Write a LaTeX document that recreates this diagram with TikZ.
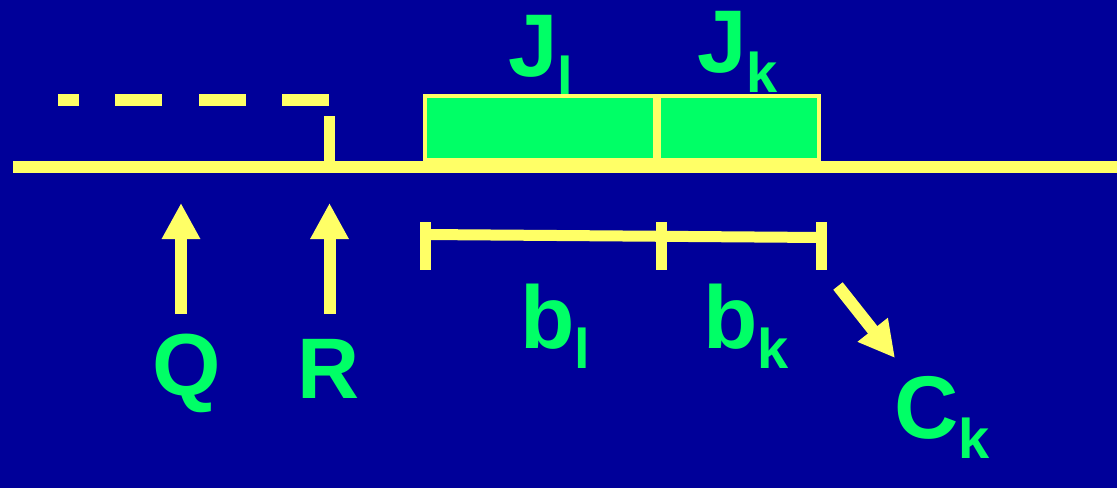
\documentclass[tikz,border=0pt]{standalone}
\usepackage{fontspec}
\setmainfont{Liberation Sans}
\usetikzlibrary{arrows.meta}
\definecolor{slidebg}{RGB}{0,0,153}
\definecolor{jobgreen}{RGB}{0,255,102}
\definecolor{hiyellow}{RGB}{255,255,102}
\newcommand{\subbed}[2]{\fontsize{89}{89}\selectfont #1\raisebox{-20pt}{\fontsize{56}{56}\selectfont #2}}
\tikzset{
  lbl/.style={anchor=base west,inner sep=0pt,text=jobgreen,font=\bfseries},
  bar/.style={draw=hiyellow,line width=12pt},
  job/.style={draw=hiyellow,fill=jobgreen,line width=4pt},
  up/.style={bar,-{Triangle[width=36pt,length=36pt]}},
}
\begin{document}
\begin{tikzpicture}[x=1pt,y=-1pt]
      \fill[slidebg] (0,0) rectangle (1117,488);
      \useasboundingbox (0,0) rectangle (1117,488);
      \node[lbl] (Jl) at (508,76) {\subbed{J}{l}};
      \node[lbl] (Jk) at (697,72) {\subbed{J}{k}};
      \node[lbl] (bl) at (520,348) {\subbed{b}{l}};
      \node[lbl] (bk) at (703,348) {\subbed{b}{k}};
      \node[lbl] (Ck) at (894,438) {\subbed{C}{k}};
      \node[lbl,font=\bfseries\fontsize{88}{88}\selectfont] (Q) at (152,395) {Q};
      \node[lbl,font=\bfseries\fontsize{86}{86}\selectfont] (R) at (297,398) {R};
      \draw[job] (425,96) rectangle (655,160);
      \draw[job] (659,96) rectangle (819,160);
      \coordinate (west) at (13,167);
      \coordinate (east) at (1117,167);
      \coordinate (dash east) at (329,100);
      \coordinate (dash west) at (58,100);
      \coordinate (tick top) at (329.5,116);
      \coordinate (tick foot) at (329.5,167);
      \draw[bar] (west) -- (east);
      \draw[bar,dash pattern=on 47pt off 36.5pt] (dash east) -- (dash west);
      \draw[bar,line width=11pt] (tick top) -- (tick foot);
      \coordinate (Q tail) at (181,314);
      \coordinate (Q tip) at (181,203);
      \coordinate (R tail) at (329.5,314);
      \coordinate (R tip) at (329.5,203);
      \draw[up] (Q tail) -- (Q tip);
      \draw[up] (R tail) -- (R tip);
      \begin{scope}[bar,line width=11pt]
        \coordinate (b west) at (425.5,234.5);
        \coordinate (b mid) at (661,236.3);
        \coordinate (b east) at (821,237.5);
        \draw (b west) -- (b east);
        \draw ([yshift=12.5pt]b west) -- ([yshift=-35.5pt]b west);
        \draw ([yshift=14.3pt]b mid) -- ([yshift=-33.7pt]b mid);
        \draw ([yshift=15.5pt]b east) -- ([yshift=-32.5pt]b east);
      \end{scope}
      \coordinate (C tail) at (838,286);
      \coordinate (C tip) at (895,358);
      \draw[up] (C tail) -- (C tip);
    \end{tikzpicture}
\end{document}
